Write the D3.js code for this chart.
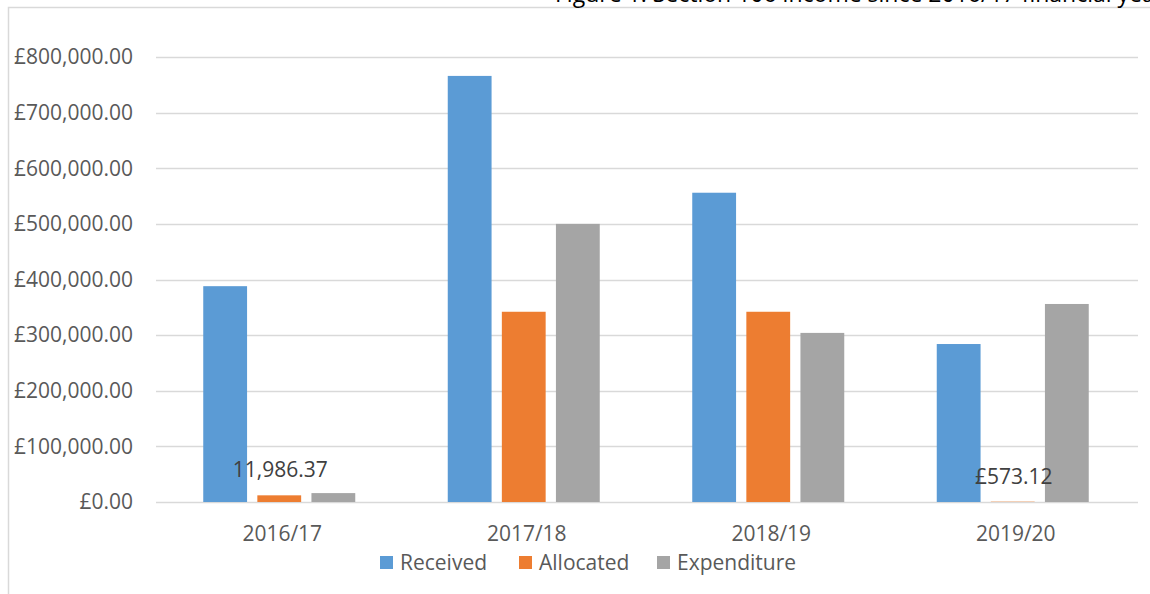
<!DOCTYPE html>
<html lang="en">
<head>
  <meta charset="UTF-8">
  <title>Section 106 income</title>
  <script src="https://cdn.jsdelivr.net/npm/d3@7"></script>
  <style>
    body { margin: 0; background: #fff; }
    text { font-family: "Open Sans", "Noto Sans", sans-serif; }
  </style>
</head>
<body>
  <div id="viz"></div>
  <script>
    // chart data
    var years = ["2016/17", "2017/18", "2018/19", "2019/20"];
    var seriesNames = ["Received", "Allocated", "Expenditure"];
    var seriesColors = ["#5B9BD5", "#ED7D31", "#A5A5A5"];
    var received = [388000, 766000, 556000, 284000];
    var allocated = [11986.37, 342000, 342000, 573.12];
    var expenditure = [16000, 500000, 304000, 356000];
    var yTicks = [0, 100000, 200000, 300000, 400000, 500000, 600000, 700000, 800000];
    var dataLabels = [{ year: "2016/17", series: "Allocated", text: "11,986.37" },
                      { year: "2019/20", series: "Allocated", text: "£573.12" }];

    var width = 1150, height = 594;
    var margin = { top: 57, right: 12, bottom: 92, left: 160 };

    var svg = d3.select("#viz").append("svg")
      .attr("width", width)
      .attr("height", height);

    // outer chart frame (page crops it on the right/bottom)
    svg.append("path")
      .attr("d", "M8.5," + height + "V7.5H" + width)
      .attr("fill", "none")
      .attr("stroke", "#d9d9d9")
      .attr("stroke-width", 1.5);

    // title, mostly cut off at the top edge
    svg.append("text")
      .attr("x", 555)
      .attr("y", 2)
      .attr("fill", "#000")
      .style("font-size", "23px")
      .text("Figure 1: Section 106 income since 2016/17 financial year");

    var x0 = d3.scaleBand()
      .domain(years)
      .range([margin.left, width - margin.right]);

    var x1 = d3.scaleBand()
      .domain(seriesNames)
      .range([0, 152])
      .paddingInner(0.19);

    var groupOffset = (x0.bandwidth() - 152) / 2 - 3;

    var y = d3.scaleLinear()
      .domain([0, 800000])
      .range([height - margin.bottom, margin.top]);

    // gridlines
    svg.append("g")
      .selectAll("line")
      .data(yTicks)
      .enter().append("line")
      .attr("x1", margin.left - 4)
      .attr("x2", width - margin.right)
      .attr("y1", function(d) { return Math.round(y(d)) + 0.5; })
      .attr("y2", function(d) { return Math.round(y(d)) + 0.5; })
      .attr("stroke", "#d9d9d9")
      .attr("stroke-width", 1.5);

    // y axis labels
    var fmt = d3.format(",.2f");
    svg.append("g")
      .selectAll("text")
      .data(yTicks)
      .enter().append("text")
      .attr("x", 133)
      .attr("y", function(d) { return y(d); })
      .attr("dy", "0.35em")
      .attr("text-anchor", "end")
      .attr("fill", "#595959")
      .style("font-size", "21px")
      .text(function(d) { return "£" + fmt(d); });

    var rows = years.map(function(yr, i) {
      return { year: yr, values: [received[i], allocated[i], expenditure[i]] };
    });

    var groups = svg.append("g")
      .selectAll("g")
      .data(rows)
      .enter().append("g")
      .attr("transform", function(d) {
        return "translate(" + (x0(d.year) + groupOffset) + ",0)";
      });

    groups.selectAll("rect")
      .data(function(d) {
        return d.values.map(function(v, j) { return { series: seriesNames[j], value: v, color: seriesColors[j] }; });
      })
      .enter().append("rect")
      .attr("x", function(d) { return x1(d.series); })
      .attr("width", x1.bandwidth())
      .attr("y", function(d) { return y(d.value); })
      .attr("height", function(d) { return y(0) - y(d.value); })
      .attr("fill", function(d) { return d.color; });

    // x axis labels
    svg.append("g")
      .selectAll("text")
      .data(years)
      .enter().append("text")
      .attr("x", function(d) { return x0(d) + x0.bandwidth() / 2; })
      .attr("y", 534)
      .attr("dy", "0.35em")
      .attr("text-anchor", "middle")
      .attr("fill", "#595959")
      .style("font-size", "21px")
      .text(function(d) { return d; });

    // data labels
    svg.append("g")
      .selectAll("text")
      .data(dataLabels)
      .enter().append("text")
      .attr("x", function(d) {
        return x0(d.year) + groupOffset + x1(d.series) + x1.bandwidth() / 2 + 1;
      })
      .attr("y", function(d, i) { return i === 0 ? 470 : 477; })
      .attr("dy", "0.35em")
      .attr("text-anchor", "middle")
      .attr("fill", "#404040")
      .style("font-size", "21px")
      .text(function(d) { return d.text; });

    // legend
    var legendX = [380, 519, 657];
    var legend = svg.append("g")
      .selectAll("g")
      .data(seriesNames)
      .enter().append("g")
      .attr("transform", function(d, i) { return "translate(" + legendX[i] + ",556)"; });

    legend.append("rect")
      .attr("width", 13)
      .attr("height", 13)
      .attr("fill", function(d, i) { return seriesColors[i]; });

    legend.append("text")
      .attr("x", 20)
      .attr("y", 7)
      .attr("dy", "0.35em")
      .attr("fill", "#595959")
      .style("font-size", "21px")
      .text(function(d) { return d; });
  </script>
</body>
</html>
